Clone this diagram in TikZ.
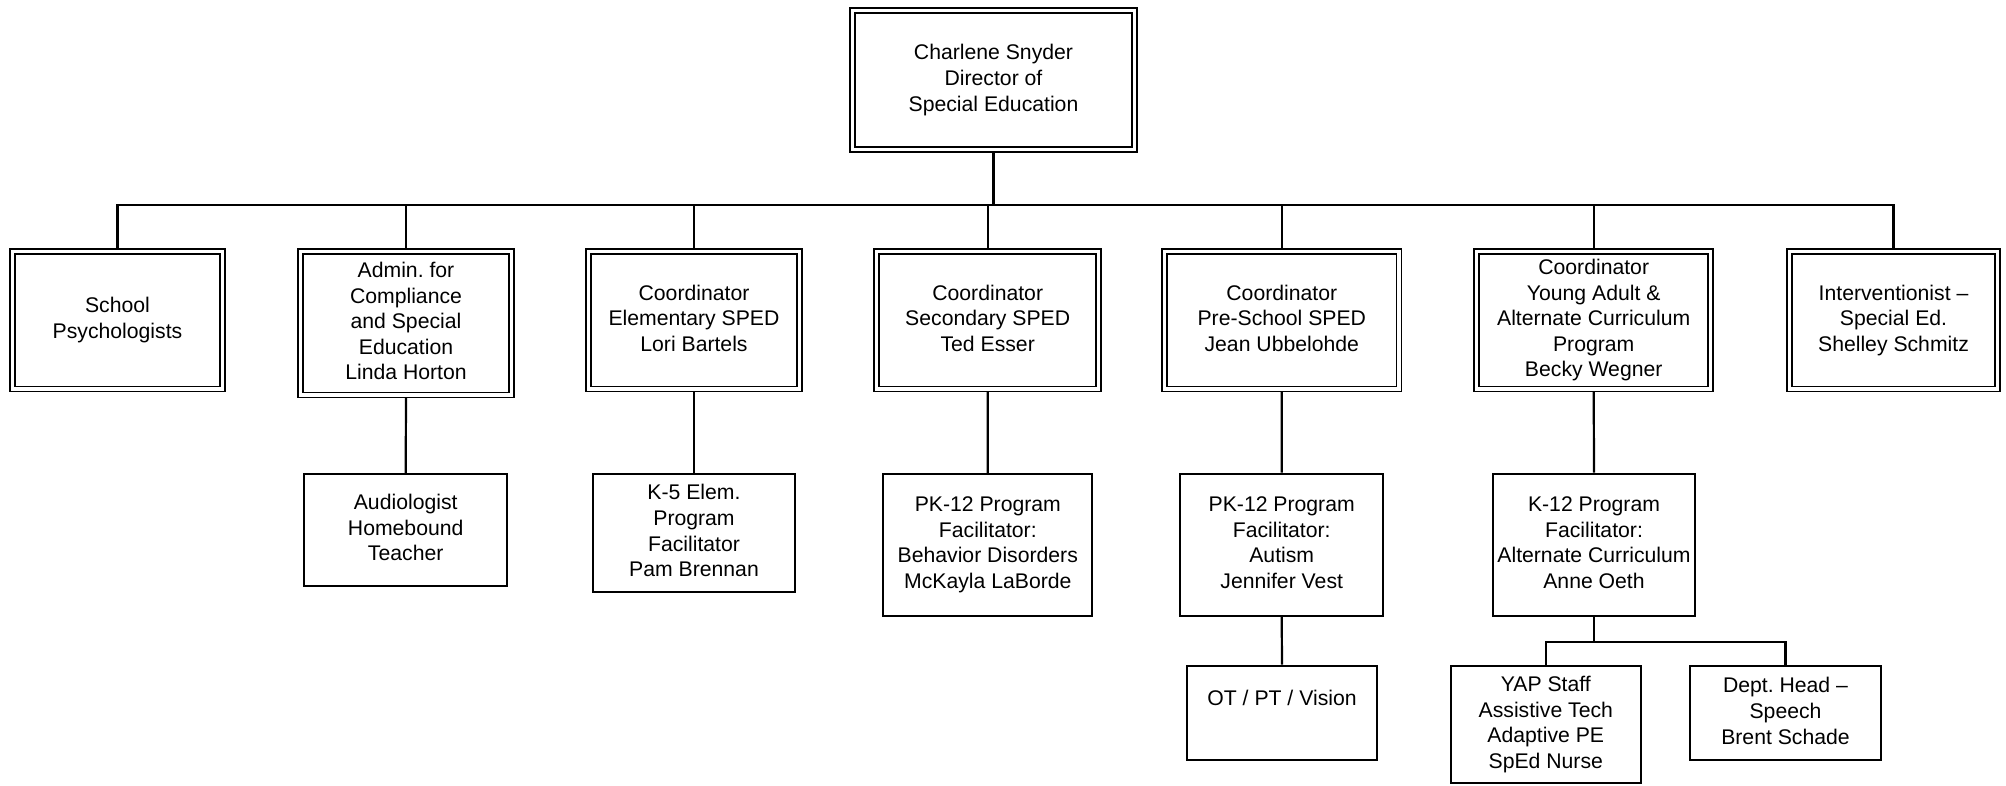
\documentclass[tikz,border=0pt]{standalone}
\usepackage{fontspec}
\setmainfont{Liberation Sans}
\usetikzlibrary{backgrounds}
% line strut with the ascent/descent of the sans font
\newcommand\lnstrut{\rule[-2.25pt]{0pt}{11.85pt}}
\frenchspacing
\begin{document}
\begin{tikzpicture}[x=0.5pt,y=-0.5pt,
  every node/.style={font=\fontsize{10.6}{12.8}\selectfont, align=center, inner sep=0pt,
    execute at begin node=\lnstrut, execute at end node=\lnstrut},
  box/.style={draw, line width=1pt, fill=white},
  dbox/.style={draw, line width=0.8pt, double, double distance=1.7pt, fill=white},
  link/.style={line width=1.1pt, line join=miter}]
\useasboundingbox (0,0) rectangle (2006,786);

% director
\node[dbox, minimum width=141.2pt, minimum height=69.7pt] (dir) at (993.5,80)
  {Charlene Snyder\\Director of\\Special Education};

% first level
\node[dbox, minimum width=105.2pt, minimum height=68.95pt] (psy) at (117.5,320.2)
  {School\\Psychologists};
\node[dbox, minimum width=105.7pt, minimum height=71.9pt] (adm) at (406,323.2)
  {Admin. for\\Compliance\\and Special\\Education\\Linda Horton};
\node[dbox, minimum width=105.4pt, minimum height=68.95pt] (ele) at (694,320.2)
  {Coordinator\\Elementary SPED\\Lori Bartels};
\node[dbox, minimum width=111.05pt, minimum height=68.95pt] (sec) at (987.7,320.2)
  {Coordinator\\Secondary SPED\\Ted Esser};
\node[dbox, minimum width=117.2pt, minimum height=68.95pt] (pre) at (1281.8,320.2)
  {Coordinator\\Pre-School SPED\\Jean Ubbelohde};
\node[dbox, minimum width=117.05pt, minimum height=68.95pt] (yad) at (1593.7,320.2)
  {Coordinator\\Young Adult \&\\Alternate Curriculum\\Program\\Becky Wegner};
\node[dbox, minimum width=104.2pt, minimum height=68.95pt] (int) at (1893.5,320.2)
  {Interventionist --\\Special Ed.\\Shelley Schmitz};

% second level
\node[box, minimum width=101.3pt, minimum height=56pt] (aud) at (405.7,529.9)
  {Audiologist\\Homebound\\Teacher};
\node[box, minimum width=101.3pt, minimum height=59.2pt] (kfive) at (694,532.9)
  {K-5 Elem.\\Program\\Facilitator\\Pam Brennan};
\node[box, minimum width=104.5pt, minimum height=71pt] (bd) at (987.8,544.8)
  {PK-12 Program\\Facilitator:\\Behavior Disorders\\McKayla LaBorde};
\node[box, minimum width=101.3pt, minimum height=71.2pt] (aut) at (1281.7,544.9)
  {PK-12 Program\\Facilitator:\\Autism\\Jennifer Vest};
\node[box, minimum width=101.3pt, minimum height=71.2pt] (ktw) at (1594,544.9)
  {K-12 Program\\Facilitator:\\Alternate Curriculum\\Anne Oeth};

% third level
\node[box, minimum width=95.3pt, minimum height=47.2pt] (ot) at (1282,712.9)
  {OT / PT / Vision\\};
\node[box, minimum width=94.9pt, minimum height=58.8pt] (yap) at (1545.8,724.5)
  {YAP Staff\\Assistive Tech\\Adaptive PE\\SpEd Nurse};
\node[box, minimum width=95.2pt, minimum height=47.3pt] (dh) at (1785.5,713)
  {Dept. Head --\\Speech\\Brent Schade};

% bus lines
\coordinate (bus) at (0,205);
\coordinate (ybus) at (0,642);

\begin{scope}[on background layer]
  \draw[link] (dir.south) -- (dir.south |- bus);
  \draw[link] (psy.north) -- (psy.north |- bus) -- (int.north |- bus) -- (int.north);
  \foreach \n in {adm,ele,sec,pre,yad}
    \draw[link] (\n.north |- bus) -- (\n.north);
  \draw[link] (adm.south) -- (aud.north);
  \draw[link] (ele.south) -- (kfive.north);
  \draw[link] (sec.south) -- (bd.north);
  \draw[link] (pre.south) -- (aut.north);
  \draw[link] (yad.south) -- (ktw.north);
  \draw[link] (aut.south) -- (ot.north);
  \draw[link] (ktw.south) -- (ktw.south |- ybus);
  \draw[link] (yap.north) -- (yap.north |- ybus) -- (dh.north |- ybus) -- (dh.north);
\end{scope}
\end{tikzpicture}
\end{document}
